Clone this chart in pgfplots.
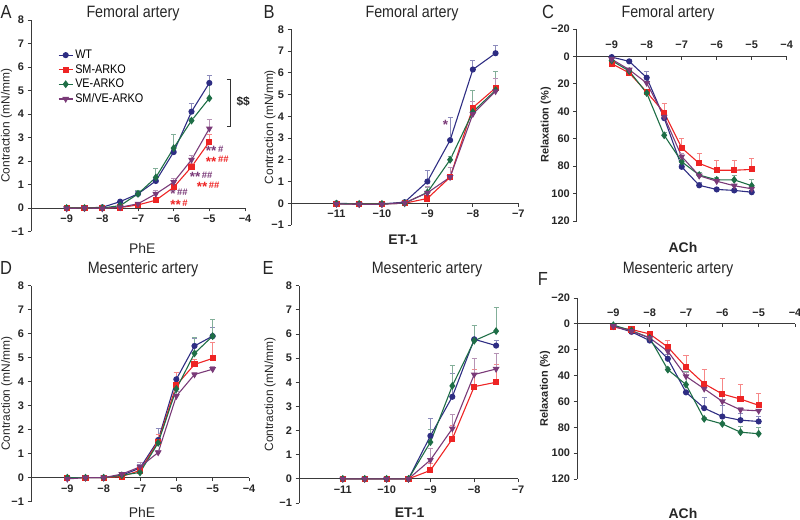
\documentclass[border=0pt]{standalone}
\usepackage{fontspec}
\setmainfont{Liberation Sans}
\newfontfamily\nfont{Liberation Sans}[FakeStretch=0.87]
\usepackage{pgfplots}
\pgfplotsset{compat=1.18}
\usepackage{pgfplotstable}

\definecolor{wtc}{HTML}{2E2D83}
\definecolor{smc}{HTML}{EE2424}
\definecolor{vec}{HTML}{1E6E46}
\definecolor{svc}{HTML}{7A3A78}
\definecolor{axc}{HTML}{3A3A3A}

\pgfplotstableread{
x wt ewt sm esm ve eve sv esv
-9 0 0 0 0 0 0 -0.02 0
-8.5 0 0 0 0 0 0 0 0
-8 0.03 0.02 0 0 0 0 -0.02 0
-7.5 0.27 0.05 0.02 0 0.1 0.05 0.03 0.02
-7 0.6 0.1 0.13 0.05 0.6 0.15 0.18 0.05
-6.5 1.15 0.1 0.33 0.05 1.3 0.4 0.6 0.15
-6 2.38 0.1 0.88 0.1 2.55 0.6 1.1 0.15
-5.5 4.1 0.35 1.75 0.15 3.72 0.1 2.05 0.2
-5 5.32 0.33 2.82 0.3 4.67 0.6 3.38 0.4
}\tA
\pgfplotstableread{
x wt ewt sm esm ve eve sv esv
-11 0 0 -0.02 0 -0.02 0 -0.03 0
-10.5 -0.03 0 -0.03 0 -0.03 0 -0.05 0
-10 -0.03 0 -0.03 0 -0.03 0 -0.05 0
-9.5 0.05 0 0 0 0 0 0.02 0
-9 1.0 0.5 0.22 0.05 0.5 0.25 0.48 0.3
-8.5 2.9 1.05 1.2 0.45 2.0 0.15 1.2 0.45
-8 6.15 0.4 4.4 0.3 4.2 1.0 4.1 0.6
-7.5 6.9 0.38 5.3 0.45 5.2 0.85 5.15 0.6
}\tB
\pgfplotstableread{
x wt ewt sm esm ve eve sv esv
-9 0.5 0 5.3 0 3 0 2 0
-8.5 3.6 1.5 12 1 10.7 1 9.7 1
-8 15.5 4.5 26 2 26.7 1 19.4 1
-7.5 45 2 41 7 57.5 2 44 5
-7 80.5 2 66.7 7 76.8 2 73 2
-6.5 94 2 78 7 86.5 2 87 1
-6 97 1 83 7 90 2 91 1
-5.5 97.7 1 83 7.5 90 3 94.3 1
-5 99 1 82.4 8 94.3 4.6 96.5 1
}\tC
\pgfplotstableread{
x wt ewt sm esm ve eve sv esv
-9 0 0 0 0 0 0 -0.05 0
-8.5 0 0 0 0 0 0 0 0
-8 0 0 0 0 0 0 0 0
-7.5 0.1 0 0.05 0 0.1 0 0.15 0.05
-7 0.4 0.15 0.3 0 0.22 0.1 0.45 0.2
-6.5 1.57 0.5 1.5 0.3 1.45 0.2 1.05 0.1
-6 4.1 0.3 3.85 0.55 3.7 0.2 3.4 0.2
-5.5 5.49 0.3 4.72 0.2 5.18 0.65 4.3 0.1
-5 5.9 0.35 4.97 0.65 5.9 0.68 4.52 0.1
}\tD
\pgfplotstableread{
x wt ewt sm esm ve eve sv esv
-11 0 0 0 0 0 0 0 0
-10.5 0 0 0 0 0 0 0 0
-10 0 0 0 0 0 0 0 0
-9.5 0 0 0 0 0 0 0 0
-9 1.78 0.72 0.35 0.3 1.52 0.53 0.78 0.47
-8.5 3.4 0.95 1.65 0.55 3.85 0.85 2.08 0.57
-8 5.78 0.57 3.82 0.73 5.72 0.65 4.32 0.68
-7.5 5.52 0.2 4.0 0.75 6.12 1.0 4.55 0.65
}\tE
\pgfplotstableread{
x wt ewt sm esm ve eve sv esv
-9 1.8 0 2.6 0 1 0 1.8 0
-8.5 6.2 1 4.4 1 5.2 1 5.7 1
-8 12.9 1 7.8 1 10.9 1 10.9 1
-7.5 27 3 18 5.3 35.4 1.5 21.2 2
-7 53 1 33.4 9.1 47 10 40.6 3
-6.5 65.2 8.5 46.3 10.9 73.5 1 50.2 1.5
-6 71.7 8.3 54.3 11.9 77.4 1 60 4
-5.5 74.5 5 58.2 11.6 83.8 4.4 66.5 2
-5 75.5 4 63 9.4 85 5 67.3 1.5
}\tF

\newcommand{\sts}[1]{\smash{\raisebox{-0.34em}{\fontsize{13.5}{13}\selectfont #1}}}

\pgfplotsset{
  ser/.style 2 args={#1, line width=1.1pt, mark options={solid, fill=#1},
    error bars/y explicit,
    error bars/error bar style={#1!55, line width=0.8pt},
    error bars/error mark options={rotate=90, #1!55, mark size=2.6bp, line width=0.8pt},
    #2},
  wt/.style={ser={wtc}{mark=*, mark size=2.5bp}},
  sm/.style={ser={smc}{mark=square*, mark size=2.5bp}},
  ve/.style={ser={vec}{mark=diamond*, mark size=3.1bp}},
  sv/.style={ser={svc}{mark=triangle*, mark size=2.9bp, mark options={rotate=180}}},
  panel/.style={
    scale only axis, clip=false,
    axis x line=middle, axis y line=left,
    axis line style={-, axc, line width=0.9pt},
    every inner x axis line/.append style={-},
    every outer y axis line/.append style={-},
    every tick/.style={axc, line width=0.9pt},
    tick align=outside, major tick length=3.5bp,
    tick label style={font=\bfseries\fontsize{11}{12}\selectfont, text=black!85},
    hide obscured x ticks=false, hide obscured y ticks=false,
    xlabel style={font=\fontsize{14}{16}\selectfont, text=black!85, anchor=center},
    ylabel style={font=\fontsize{12}{14}\selectfont, text=black!85, anchor=center},
  },
  contr/.style={panel, ymin=-1, ymax=8, ytick={-1,0,...,8},
    yticklabels={−1,0,1,2,3,4,5,6,7,8}, ylabel={Contraction (mN/mm)},
    error bars/y dir=plus},
  relax/.style={panel, y dir=reverse, ymin=-20, ymax=120, ytick={-20,0,...,120},
    yticklabels={−20,0,20,40,60,80,100,120}, ylabel={\bfseries Relaxation (\%)},
    ylabel style={font=\bfseries\fontsize{11}{13}\selectfont},
    xmin=-10, xmax=-4, xtick={-9,...,-4}, xticklabels={−9,−8,−7,−6,−5,−4},
    xtick align=inside,
    xticklabel style={anchor=south, yshift=4bp},
    xlabel={\bfseries ACh},
    error bars/y dir=minus},
  phe/.style={xmin=-10, xmax=-4, xtick={-9,...,-4}, xticklabels={−9,−8,−7,−6,−5,−4}, xlabel={PhE}},
  et/.style={xmin=-12, xmax=-7, xtick={-11,...,-7}, xticklabels={−11,−10,−9,−8,−7}, xlabel={\bfseries ET-1}},
}

\newcommand{\four}[1]{%
  \addplot[wt] table[x=x, y=wt, y error=ewt]{#1};
  \addplot[sm] table[x=x, y=sm, y error=esm]{#1};
  \addplot[ve] table[x=x, y=ve, y error=eve]{#1};
  \addplot[sv] table[x=x, y=sv, y error=esv]{#1};
}

\begin{document}
\begin{tikzpicture}[x=1bp, y=1bp]
\useasboundingbox (0,0) rectangle (800,520);

% ---------- A ----------
\begin{axis}[contr, phe, at={(31bp,288.5bp)}, anchor=south west, width=214bp, height=211.5bp,
  xlabel style={at={(axis description cs:0.52,-0.078)}},
  ylabel style={at={(axis description cs:-0.114,0.5)}},
  legend style={at={(axis description cs:0.126,0.868)}, anchor=north west, draw=none, fill=none,
    font=\nfont\fontsize{12.5}{13}\selectfont, row sep=0.4bp, inner sep=0pt,
    /tikz/every even column/.append style={column sep=3bp}},
  legend cell align=left,
  legend image code/.code={\draw[#1, mark repeat=2, mark phase=2] plot coordinates {(0bp,0bp) (7bp,0bp) (14bp,0bp)};},
]
\four{\tA}
\legend{WT, SM-ARKO, VE-ARKO, SM/VE-ARKO}
\draw[black!80, line width=0.9pt] (axis cs:-4.51,5.45) -- (axis cs:-4.40,5.45) -- (axis cs:-4.40,3.46) -- (axis cs:-4.51,3.46);
\node[font=\bfseries\fontsize{12}{12}\selectfont, text=black!85] at (axis cs:-4.05,4.52) {\$\$};
\begin{scope}[every node/.style={font=\bfseries\fontsize{9.5}{10.4}\selectfont, inner sep=0pt, align=left, anchor=west}]
\node at (axis cs:-5.1,2.28) {\textcolor{svc}{\sts{**}\,\#}\\\textcolor{smc}{\sts{**}\,\#\#}};
\node at (axis cs:-5.55,1.19) {\textcolor{svc}{\sts{**}\,\#\#}\\\hspace*{7bp}\textcolor{smc}{\sts{**}\,\#\#}};
\node at (axis cs:-6.1,0.44) {\textcolor{svc}{\sts{*}\,\#\#}\\\textcolor{smc}{\sts{**}\,\#}};
\end{scope}
\end{axis}

% ---------- B ----------
\begin{axis}[contr, et, at={(291bp,295bp)}, anchor=south west, width=227.3bp, height=195.7bp,
  xlabel style={at={(axis description cs:0.493,-0.077)}},
  ylabel style={at={(axis description cs:-0.092,0.5)}},
]
\four{\tB}
\node[svc, font=\bfseries] at (axis cs:-8.6,3.55) {\sts{*}};
\end{axis}

% ---------- C ----------
\begin{axis}[relax, at={(576.7bp,299bp)}, anchor=south west, width=210bp, height=192bp,
  xlabel style={at={(axis description cs:0.506,-0.14)}},
  ylabel style={at={(axis description cs:-0.147,0.5)}},
]
\four{\tC}
\end{axis}

% ---------- D ----------
\begin{axis}[contr, phe, at={(31bp,18.3bp)}, anchor=south west, width=218bp, height=216bp,
  xlabel style={at={(axis description cs:0.509,-0.048)}},
  ylabel style={at={(axis description cs:-0.111,0.5)}},
]
\four{\tD}
\end{axis}

% ---------- E ----------
\begin{axis}[contr, et, at={(299bp,17bp)}, anchor=south west, width=219bp, height=217.3bp,
  xlabel style={at={(axis description cs:0.505,-0.046)}},
  ylabel style={at={(axis description cs:-0.132,0.5)}},
]
\four{\tE}
\end{axis}

% ---------- F ----------
\begin{axis}[relax, at={(577bp,41bp)}, anchor=south west, width=218bp, height=181bp,
  xlabel style={at={(axis description cs:0.486,-0.188)}},
  ylabel style={at={(axis description cs:-0.147,0.5)}},
]
\four{\tF}
\end{axis}

% titles and panel letters
\begin{scope}[every node/.style={text=black!85}]
\node[font=\nfont\fontsize{16.5}{18}\selectfont] at (133,507) {Femoral artery};
\node[font=\nfont\fontsize{16.5}{18}\selectfont] at (412,507) {Femoral artery};
\node[font=\nfont\fontsize{16.5}{18}\selectfont] at (668,507) {Femoral artery};
\node[font=\nfont\fontsize{16.5}{18}\selectfont] at (143,251) {Mesenteric artery};
\node[font=\nfont\fontsize{16.5}{18}\selectfont] at (427,251) {Mesenteric artery};
\node[font=\nfont\fontsize{16.5}{18}\selectfont] at (678,251) {Mesenteric artery};
\node[font=\nfont\fontsize{19}{20}\selectfont] at (6,508) {A};
\node[font=\nfont\fontsize{19}{20}\selectfont] at (269,508) {B};
\node[font=\nfont\fontsize{19}{20}\selectfont] at (548,508) {C};
\node[font=\nfont\fontsize{19}{20}\selectfont] at (6,252) {D};
\node[font=\nfont\fontsize{19}{20}\selectfont] at (268,252) {E};
\node[font=\nfont\fontsize{19}{20}\selectfont] at (543,241) {F};
\end{scope}
\end{tikzpicture}
\end{document}
